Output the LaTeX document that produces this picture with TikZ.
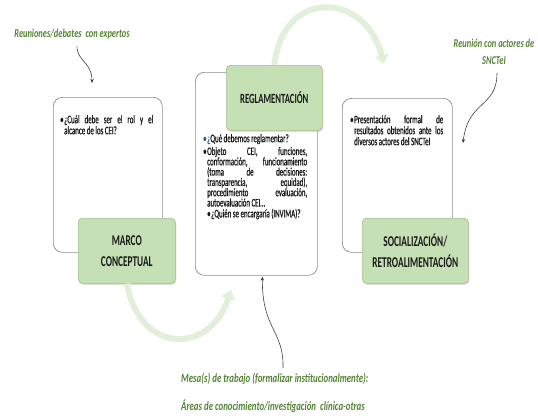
\documentclass[tikz,border=0pt]{standalone}
\usepackage{fontspec}
\setmainfont{Carlito}[FakeStretch=0.7]
\newfontfamily\bodyfont{Carlito}[FakeStretch=0.6,FakeBold=0.8]
\newfontfamily\headfont{Carlito}[FakeStretch=0.62]
\usetikzlibrary{arrows.meta,shadows,calc}
\definecolor{boxgreen}{HTML}{C5E0B4}
\definecolor{boxgreenedge}{HTML}{A3BE8C}
\definecolor{txtgreen}{HTML}{548235}
\definecolor{arrowgreen}{HTML}{E2EFDA}
\definecolor{boxgray}{HTML}{8C8C8C}
\definecolor{bulblue}{HTML}{2F5597}
\hyphenpenalty=10000
\exhyphenpenalty=10000
\tolerance=10000
\newcommand\bul[2][0pt]{\par\noindent\hangindent=\dimexpr#1+4pt\relax\hangafter=1\hspace*{#1}\makebox[4pt][l]{•}#2\par}
\tikzset{
  whitebox/.style={draw=boxgray, fill=white, rounded corners=9pt, line width=0.7pt, anchor=north west, inner sep=0pt},
  greenbox/.style={draw=boxgreenedge, fill=boxgreen, rounded corners=4pt, line width=0.6pt, anchor=north west, inner sep=0pt,
    font=\headfont\bfseries\fontsize{15}{21}\selectfont, align=center, text=black!90,
    drop shadow={shadow xshift=1pt, shadow yshift=-1.5pt, opacity=0.25}},
  bodytext/.style={anchor=north west, inner sep=0pt, align=justify, font=\bodyfont\fontsize{11.5}{11}\selectfont, text=black!90},
  greenlabel/.style={inner sep=0pt, text=txtgreen, font=\bfseries\itshape\fontsize{12}{16}\selectfont},
  conn/.style={draw=black!75, line width=0.6pt, -{Stealth[length=4pt,width=3.5pt]}},
  bigarrow/.style={draw=arrowgreen, line width=6pt, -{Triangle[length=9pt,width=14pt]}}
}
\begin{document}
\begin{tikzpicture}[x=1pt,y=-1pt]
\useasboundingbox (0,0) rectangle (538,418);
\node[whitebox, minimum width=109pt, minimum height=155pt] (lw) at (53,97) {};
\node[whitebox, minimum width=122pt, minimum height=203pt] (mw) at (195,72) {};
\node[whitebox, minimum width=110pt, minimum height=154pt] (rw) at (342,98) {};

\node[greenbox, minimum width=97pt, minimum height=65pt] (gl) at (78,218) {MARCO\\CONCEPTUAL};
\node[greenbox, minimum width=96pt, minimum height=65pt, font=\headfont\bfseries\fontsize{14}{20}\selectfont] (gm) at (226,65) {REGLAMENTACIÓN};
\node[greenbox, minimum width=106pt, minimum height=65pt] (gr) at (362,218) {SOCIALIZACIÓN/\\RETROALIMENTACIÓN};

\draw[bigarrow] (gl.south) .. controls (140,355) and (210,355) .. (231,290);
\draw[bigarrow] (gm.north) .. controls (283,-12) and (365,-9) .. (384,64);

\node[bodytext, text width=93pt] (lt) at (60,112) {\bul{¿Cuál debe ser el rol y el\linebreak alcance de los CEI?}};
\node[bodytext, text width=93pt] (rt) at (350,112) {\bul{Presentación formal de\linebreak resultados obtenidos ante los\linebreak diversos actores del SNCTeI}};
\node[bodytext, text width=104pt, font=\bodyfont\fontsize{11.5}{10.3}\selectfont] (mt) at (203,134) {%
\noindent{\color{bulblue}\makebox[4pt][l]{•}¿}Qué debemos reglamentar?\par\vspace{2.5pt}
\bul{Objeto CEI, funciones,\linebreak conformación, funcionamiento\linebreak (toma de decisiones:\linebreak transparencia, equidad),\linebreak procedimiento evaluación,\linebreak autoevaluación CEI…}
\vspace{0.5pt}
\bul[4pt]{¿Quién se encargaría (INVIMA)?}};

\node[greenlabel] (la) at (72,34) {Reuniones/debates\, con expertos};
\node[greenlabel, align=center, font=\bfseries\itshape\fontsize{12}{17}\selectfont] (lb) at (494,52) {Reunión con actores de\\SNCTeI};
\node[greenlabel, anchor=north west, align=left, font=\bfseries\itshape\fontsize{12.6}{28}\selectfont] (lc) at (181,373) {Mesa(s) de trabajo (formalizar institucionalmente):\\Áreas de conocimiento/investigación\, clínica-otras};

\coordinate (ta) at (92,83);
\coordinate (tb) at (463,143);
\draw[conn] ($(la.south)+(5,7)$) .. controls ($(la.south)+(5,22)$) and (92,62) .. (ta);
\draw[conn] ($(lb.south)+(3,8)$) .. controls (497,108) and (468,100) .. (tb);
\draw[conn] (283,368) .. controls (284,330) and (262,330) .. ($(mw.south)+(6,1)$);
\end{tikzpicture}
\end{document}
